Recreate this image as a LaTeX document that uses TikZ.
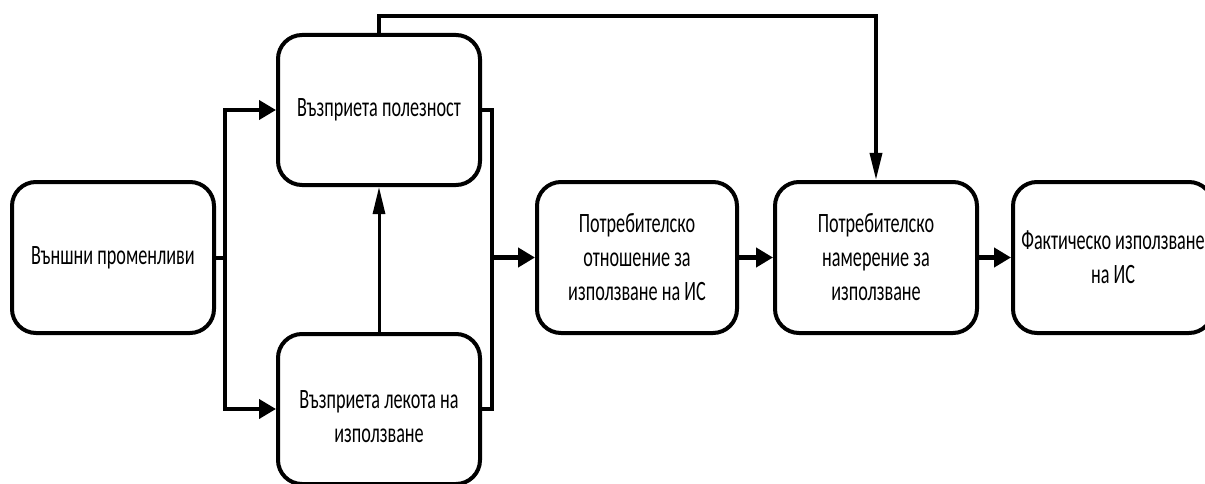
\documentclass[tikz,border=0pt]{standalone}
\usepackage{fontspec}
\setmainfont{Carlito}[FakeStretch=0.65]
\usetikzlibrary{arrows.meta}
\begin{document}
\begin{tikzpicture}[x=1pt,y=-1pt,
  box/.style={draw, line width=4pt, rounded corners=24pt, minimum width=202pt,
    minimum height=151pt, inner sep=0pt, align=center, font=\boxfont},
  txt/.style={inner sep=0pt, align=center, font=\boxfont},
  conn/.style={line width=4pt},
  thinconn/.style={line width=3pt},
  bigconn/.style={line width=5pt},
  tip/.style={-{Triangle[length=17pt,width=19pt]}},
  thintip/.style={-{Triangle[length=27pt,width=12pt]}}
]
\newcommand{\boxfont}{\fontsize{28}{34}\selectfont}
\useasboundingbox (0,0) rectangle (1205,484);
\node[box] (A) at (113,257.5) {Външни променливи};
\node[box, minimum height=150pt] (B) at (379,110) {Възприета полезност};
\node[box, minimum height=150pt] (C) at (379,409) {};
\node[txt] (Ct) at (379,417) {Възприета лекота на\\използване};
\node[box, minimum width=200pt] (D) at (637,257.5) {Потребителско\\отношение за\\използване на ИС};
\node[box] (E) at (876,257.5) {Потребителско\\намерение за\\използване};
\node[box, minimum width=200pt] (F) at (1113,257.5) {Фактическо използване\\на ИС};
\coordinate (j1) at (225,257.5);
\coordinate (j2) at (492,257.5);
\coordinate (tl) at (379,16);
\coordinate (tr) at (876,16);
\draw[conn] (A.east) -- (j1);
\draw[conn,tip] (j1) |- (B.west);
\draw[conn,tip] (j1) |- (C.west);
\draw[thinconn,thintip] (C.north) -- (B.south);
\draw[line width=3.5pt,thintip] (B.north) -- (tl) -- (tr) -- (E.north);
\draw[conn] (B.east) -| (j2);
\draw[conn] (C.east) -| (j2);
\draw[bigconn,tip] (j2) -- (D.west);
\draw[bigconn,tip] (D.east) -- (E.west);
\draw[bigconn,tip] (E.east) -- (F.west);
\end{tikzpicture}
\end{document}
